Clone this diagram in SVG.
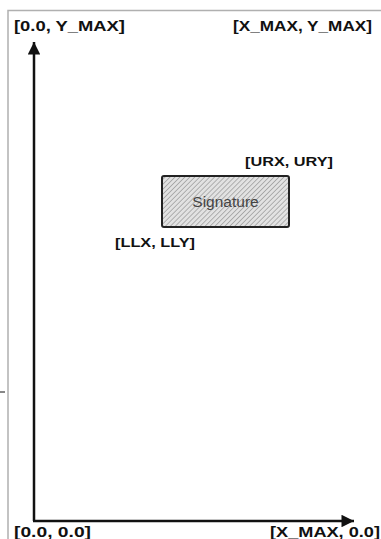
<svg xmlns="http://www.w3.org/2000/svg" width="381" height="539" viewBox="0 0 381 539">
<style>
.lbl{font-family:"Liberation Sans",Arial,sans-serif;font-weight:bold;fill:#111;}
.big{font-size:15px;}
.bottom{font-size:14px;}
.small{font-size:12.5px;}
.axis{stroke:#111;stroke-width:2.5;fill:none;}
</style>
<defs>
<pattern id="hatch" patternUnits="userSpaceOnUse" width="3.5" height="3.5" patternTransform="rotate(45)">
<rect width="3.5" height="3.5" fill="#e2e2e2"/>
<line x1="0" y1="0" x2="0" y2="3.5" stroke="#7a7a7a" stroke-width="1"/>
</pattern>
<marker id="ah" viewBox="0 0 10 10" refX="10" refY="5" markerWidth="7" markerHeight="5" markerUnits="strokeWidth" orient="auto">
<path d="M0,0 L10,5 L0,10 Z" fill="#111"/>
</marker>
</defs>
<rect width="381" height="539" fill="#fff"/>
<g id="page">
<path d="M8,539 L8,10.5 L381,10.5" fill="none" stroke="#b0b0b0" stroke-width="1.5"/>
<line x1="0" y1="392" x2="5" y2="392" stroke="#111" stroke-width="1"/>
</g>
<g id="connectors">
<line class="axis" x1="34" y1="521" x2="34" y2="42" marker-end="url(#ah)"/>
<line class="axis" x1="33" y1="521" x2="354" y2="521" marker-end="url(#ah)"/>
</g>
<g id="signature">
<rect x="162" y="176" width="127" height="51" rx="2" fill="url(#hatch)" stroke="#222" stroke-width="2"/>
<text x="225.5" y="207" text-anchor="middle" font-family="'Liberation Sans',Arial,sans-serif" font-size="15.5" fill="#444">Signature</text>
</g>
<g id="labels">
<text class="lbl big" x="14" y="31" textLength="111" lengthAdjust="spacingAndGlyphs">[0.0, Y_MAX]</text>
<text class="lbl big" x="233" y="31" textLength="139" lengthAdjust="spacingAndGlyphs">[X_MAX, Y_MAX]</text>
<text class="lbl small" x="245" y="166" textLength="88" lengthAdjust="spacingAndGlyphs">[URX, URY]</text>
<text class="lbl small" x="115" y="247" textLength="80" lengthAdjust="spacingAndGlyphs">[LLX, LLY]</text>
<text class="lbl bottom" x="14" y="536.5" textLength="77" lengthAdjust="spacingAndGlyphs">[0.0, 0.0]</text>
<text class="lbl bottom" x="270" y="536.5" textLength="110" lengthAdjust="spacingAndGlyphs">[X_MAX, 0.0]</text>
</g>
</svg>
